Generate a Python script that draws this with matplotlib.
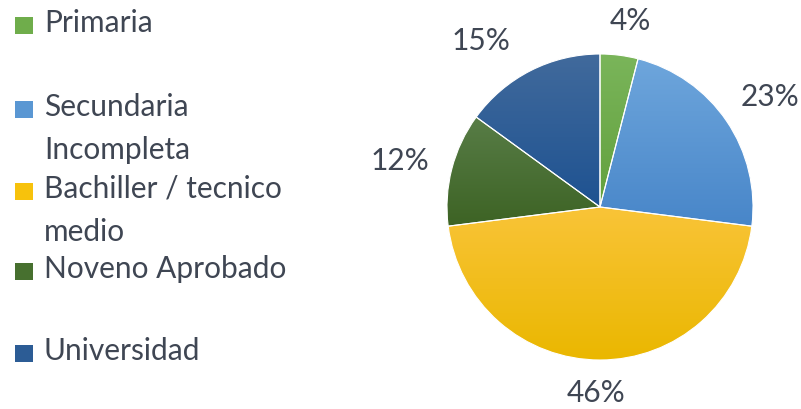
import matplotlib
matplotlib.use("Agg")
import matplotlib.pyplot as plt
from matplotlib.patches import Rectangle
from matplotlib.colors import LinearSegmentedColormap
import numpy as np

categories = ["Primaria", "Secundaria\nIncompleta", "Bachiller / tecnico\nmedio",
              "Noveno Aprobado", "Universidad"]
values = [4, 23, 46, 12, 15]

# style
colors_mid = ["#6FAD4B", "#5A97D3", "#F7C20C", "#47702F", "#2C5C95"]
colors_top = ["#7AB55A", "#6EA6DC", "#F9C438", "#587D47", "#416A9C"]
colors_bot = ["#62A03D", "#4886C9", "#EAB700", "#3D6324", "#1E5291"]
text_color = "#3F4653"
FS = 21.5

plt.rcParams['font.family'] = ['Lato', 'DejaVu Sans']

W, H = 801, 410
fig = plt.figure(figsize=(W / 100, H / 100), dpi=100)

cx, cy, r = 600, 208, 153
ax = fig.add_axes([(cx - r) / W, (H - cy - r) / H, 2 * r / W, 2 * r / H])
wedges, texts, autotexts = ax.pie(
    values, colors=colors_mid, startangle=90, counterclock=False, radius=1,
    autopct=lambda p: f"{p:.0f}%", pctdistance=1.27,
    wedgeprops=dict(edgecolor="white", linewidth=0.8),
    textprops=dict(color=text_color, fontsize=FS))

# vertical gradient fill per slice
grad = np.linspace(0, 1, 256).reshape(-1, 1)
for w, top, bot in zip(wedges, colors_top, colors_bot):
    ext = w.get_path().get_extents()
    cmap = LinearSegmentedColormap.from_list("g", [bot, top])
    im = ax.imshow(grad, cmap=cmap, origin="lower", aspect="auto",
                   extent=[ext.x0, ext.x1, ext.y0, ext.y1], zorder=1,
                   interpolation="bilinear")
    im.set_clip_path(w)
    w.set_facecolor("none")
    w.set_zorder(2)

# label positions (data coords of the pie)
label_pos = [(0.196, 1.222), (1.111, 0.725), (-0.026, -1.209),
             (-1.307, 0.307), (-0.778, 1.092)]
for t, p in zip(autotexts, label_pos):
    t.set_position(p)
    t.set_ha("center")
    t.set_va("center")

ax.set_xlim(-1, 1)
ax.set_ylim(-1, 1)
ax.set_aspect("equal")
ax.axis("off")

# legend (manual)
slot_tops = [15, 99, 181, 261, 343]
for lab, col, top in zip(categories, colors_mid, slot_tops):
    fig.patches.append(Rectangle((15 / W, 1 - (top + 20) / H), 18 / W, 17 / H,
                                 transform=fig.transFigure, facecolor=col,
                                 edgecolor="none"))
    fig.text(44 / W, 1 - (top - 6) / H, lab, ha="left", va="top", fontsize=FS,
             color=text_color, linespacing=1.66)

fig.savefig("out.png", dpi=100)
